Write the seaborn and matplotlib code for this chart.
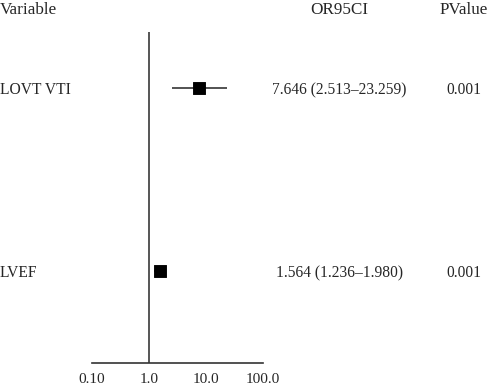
import matplotlib
matplotlib.use("Agg")
import matplotlib.pyplot as plt
import seaborn as sns
import pandas as pd

variables = ["LOVT VTI", "LVEF"]
odds_ratio = [7.646, 1.564]
ci_low = [2.513, 1.236]
ci_high = [23.259, 1.980]
or_text = ["7.646 (2.513\u201323.259)", "1.564 (1.236\u20131.980)"]
p_values = ["0.001", "0.001"]
x_ticks = [0.1, 1, 10, 100]
x_tick_labels = ["0.10", "1.0", "10.0", "100.0"]

df = pd.DataFrame({"Variable": variables, "OR": odds_ratio,
                   "Low": ci_low, "High": ci_high, "Row": range(len(variables))})

sns.set_style("white")
plt.rcParams["font.family"] = ["Liberation Serif", "DejaVu Serif"]

W, H = 487, 386
fig = plt.figure(figsize=(W / 100, H / 100), dpi=100)
ax = fig.add_axes([92 / W, 1 - 363 / H, (263 - 92) / W, (363 - 32) / H])

# reference line at OR = 1
ax.axvline(1, color="#555555", lw=1.4, zorder=1)
# confidence intervals
ax.hlines(df["Row"], df["Low"], df["High"], color="#444444", lw=1.3, zorder=2)
sns.scatterplot(data=df, x="OR", y="Row", marker="s", s=65, color="black",
                edgecolor="black", ax=ax, zorder=3, legend=False)

ax.set_xscale("log")
ax.set_xlim(0.1, 100)
ax.set_ylim(1.503, -0.306)
ax.set_xticks(x_ticks)
ax.set_xticklabels(x_tick_labels, fontsize=11)
ax.minorticks_off()
ax.set_yticks([])
ax.set_xlabel("")
ax.set_ylabel("")
for side in ["top", "right", "left"]:
    ax.spines[side].set_visible(False)
ax.spines["bottom"].set_color("#333333")
ax.spines["bottom"].set_linewidth(1.2)
ax.tick_params(axis="x", direction="in", length=5, width=1.2, color="#333333", pad=7)
ax.patch.set_alpha(0)

# header
hfs = 12.3
fig.text(0 / W, 1 - 10 / H, "Variable", fontsize=hfs, ha="left", va="center")
fig.text(339 / W, 1 - 10 / H, "OR95CI", fontsize=hfs, ha="center", va="center")
fig.text(440 / W, 1 - 10 / H, "PValue", fontsize=hfs, ha="left", va="center")

# table columns, positioned on the row axis
fs = 11.2
trans_var = matplotlib.transforms.blended_transform_factory(fig.transFigure, ax.transData)
for i, row in df.iterrows():
    fig.text(0, row["Row"], row["Variable"], transform=trans_var, fontsize=fs,
             ha="left", va="center_baseline")
    fig.text(339 / W, row["Row"], or_text[i], transform=trans_var, fontsize=fs,
             ha="center", va="center_baseline")
    fig.text(464 / W, row["Row"], p_values[i], transform=trans_var, fontsize=fs,
             ha="center", va="center_baseline")

fig.savefig("out.png", dpi=100)
